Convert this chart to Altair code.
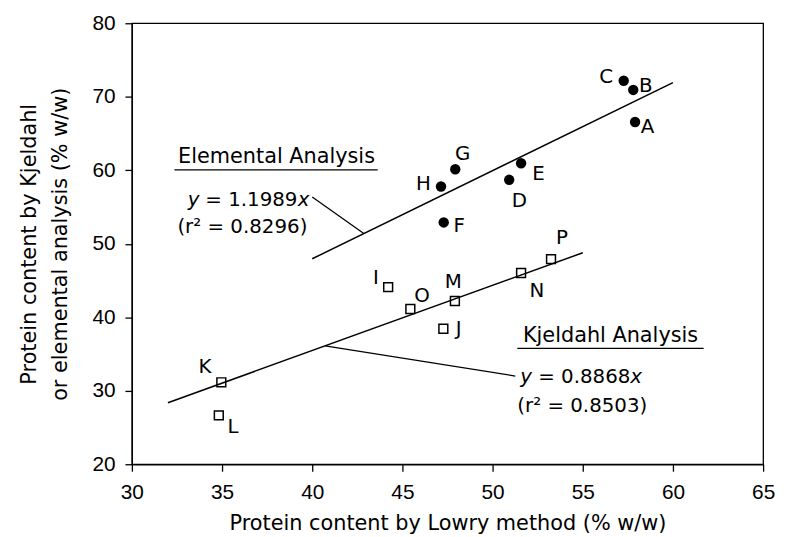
import altair as alt
import pandas as pd

FONT = "DejaVu Sans"
TICK_FONT = "Liberation Sans"
X_DOMAIN = [30, 65]
Y_DOMAIN = [20, 80]
W, H = 637, 445
PX_X = W / (X_DOMAIN[1] - X_DOMAIN[0])
PX_Y = H / (Y_DOMAIN[1] - Y_DOMAIN[0])

# Elemental analysis (filled circles)
EL_NAMES = list("ABCDEFGH")
EL_X = [57.9, 57.8, 57.27, 50.92, 51.58, 47.29, 47.93, 47.14]
EL_Y = [66.56, 70.93, 72.18, 58.70, 60.95, 52.90, 60.14, 57.79]
EL_DX = [12.6, 12.7, -17.6, 10.3, 17.6, 15.6, 7.4, -17.7]
EL_DY = [5.3, -4.3, -4, 21, 11, 4, -15, -2.4]

# Kjeldahl analysis (open squares)
KJ_NAMES = list("IJKLMNOP")
KJ_X = [44.21, 47.27, 34.96, 34.82, 47.91, 51.58, 45.44, 53.24]
KJ_Y = [44.10, 38.43, 31.15, 26.65, 42.21, 46.02, 41.13, 47.91]
KJ_DX = [-12.4, 15.4, -16.6, 14.3, -1.7, 16, 11.7, 11]
KJ_DY = [-9, 0, -15, 11.6, -19, 18.7, -13.3, -21]

# Regression lines
EL_SLOPE, EL_RANGE = 1.1989, [40, 60]
KJ_SLOPE, KJ_RANGE = 0.8868, [32, 55]

# Leader lines
EL_LEADER_X, EL_LEADER_Y = [40.0, 42.86], [56.36, 51.39]
KJ_LEADER_X, KJ_LEADER_Y = [40.71, 51.26], [36.1, 32.0]

# Headings with underline
HEAD_TEXT = ["Elemental Analysis", "Kjeldahl Analysis"]
HEAD_X = [38.02, 56.54]
HEAD_Y = [61.80, 37.40]
UL_X1 = [32.36, 51.37]
UL_X2 = [43.63, 61.70]
UL_Y = [60.05, 35.78]

# Equations
EL_EQ = ["y", "= 1.1989", "x"]
KJ_EQ = ["y", "= 0.8868", "x"]
EL_EQ_POS = (39.84, 56.0)
KJ_EQ_POS = (51.54, 31.87)
R2_TEXT = ["(r\u00b2 = 0.8296)", "(r\u00b2 = 0.8503)"]
R2_X = [39.73, 51.37]
R2_Y = [52.23, 27.96]
R2_ALIGN = ["right", "left"]

sx = alt.Scale(domain=X_DOMAIN, nice=False, zero=False)
sy = alt.Scale(domain=Y_DOMAIN, nice=False, zero=False)

xaxis = alt.Axis(
    title="Protein content by Lowry method (% w/w)",
    values=list(range(30, 66, 5)), grid=False,
)
yaxis = alt.Axis(
    title=["Protein content by Kjeldahl", "or elemental analysis (% w/w)"],
    values=list(range(20, 81, 10)), grid=False,
)


def X(field="x"):
    return alt.X(f"{field}:Q", scale=sx, axis=xaxis)


def Y(field="y"):
    return alt.Y(f"{field}:Q", scale=sy, axis=yaxis)


el = pd.DataFrame({"name": EL_NAMES, "x": EL_X, "y": EL_Y})
el["lx"] = [x + dx / PX_X for x, dx in zip(EL_X, EL_DX)]
el["ly"] = [y - dy / PX_Y for y, dy in zip(EL_Y, EL_DY)]
kj = pd.DataFrame({"name": KJ_NAMES, "x": KJ_X, "y": KJ_Y})
kj["lx"] = [x + dx / PX_X for x, dx in zip(KJ_X, KJ_DX)]
kj["ly"] = [y - dy / PX_Y for y, dy in zip(KJ_Y, KJ_DY)]

base_pts = alt.Chart(el).mark_point(
    shape="circle", filled=True, color="black", size=110, opacity=1
).encode(x=X(), y=Y())

sq_pts = alt.Chart(kj).mark_point(
    shape="square", filled=False, color="black", size=80, strokeWidth=1.5, opacity=1
).encode(x=X(), y=Y())

el_lab = alt.Chart(el).mark_text(font=FONT, fontSize=20, color="black", baseline="middle").encode(
    x=X("lx"), y=Y("ly"), text="name:N")
kj_lab = alt.Chart(kj).mark_text(font=FONT, fontSize=20, color="black", baseline="middle").encode(
    x=X("lx"), y=Y("ly"), text="name:N")

reg = pd.DataFrame({
    "x": EL_RANGE + KJ_RANGE,
    "y": [EL_SLOPE * v for v in EL_RANGE] + [KJ_SLOPE * v for v in KJ_RANGE],
    "g": ["el", "el", "kj", "kj"],
})
reg_lines = alt.Chart(reg).mark_line(color="black", strokeWidth=1.5).encode(
    x=X(), y=Y(), detail="g:N")

lead = pd.DataFrame({
    "x": EL_LEADER_X + KJ_LEADER_X,
    "y": EL_LEADER_Y + KJ_LEADER_Y,
    "g": ["el", "el", "kj", "kj"],
})
lead_lines = alt.Chart(lead).mark_line(color="black", strokeWidth=1.3).encode(
    x=X(), y=Y(), detail="g:N")

heads = pd.DataFrame({"t": HEAD_TEXT, "x": HEAD_X, "y": HEAD_Y})
head_txt = alt.Chart(heads).mark_text(
    font=FONT, fontSize=21, color="black", baseline="middle", align="center"
).encode(x=X(), y=Y(), text="t:N")

ul = pd.DataFrame({"x": UL_X1, "x2": UL_X2, "y": UL_Y})
ul_rule = alt.Chart(ul).mark_rule(color="black", strokeWidth=1.3).encode(
    x=X(), x2="x2:Q", y=Y())

eq_layers = []
ex, ey = EL_EQ_POS
edf = pd.DataFrame({"x": [ex], "y": [ey]})
for txt, style, dx in zip(EL_EQ, ["italic", "normal", "italic"], [-111, -12, 0]):
    eq_layers.append(alt.Chart(edf).mark_text(
        font=FONT, fontSize=20, color="black", baseline="middle", align="right",
        fontStyle=style, dx=dx, text=txt).encode(x=X(), y=Y()))
kx, ky = KJ_EQ_POS
kdf = pd.DataFrame({"x": [kx], "y": [ky]})
for txt, style, dx in zip(KJ_EQ, ["italic", "normal", "italic"], [0, 18, 111]):
    eq_layers.append(alt.Chart(kdf).mark_text(
        font=FONT, fontSize=20, color="black", baseline="middle", align="left",
        fontStyle=style, dx=dx, text=txt).encode(x=X(), y=Y()))

for t, x, y, a in zip(R2_TEXT, R2_X, R2_Y, R2_ALIGN):
    eq_layers.append(alt.Chart(pd.DataFrame({"x": [x], "y": [y]})).mark_text(
        font=FONT, fontSize=20, color="black", baseline="middle", align=a, text=t
    ).encode(x=X(), y=Y()))

chart = alt.layer(
    base_pts, sq_pts, reg_lines, lead_lines, el_lab, kj_lab, head_txt, ul_rule, *eq_layers
).properties(
    width=W, height=H,
    autosize="none",
    padding={"left": 125, "top": 13, "right": 14, "bottom": 71},
    background="white",
).configure_view(
    stroke="black", strokeWidth=1.3
).configure_axis(
    domainColor="black", domainWidth=1.3,
    tickColor="black", tickWidth=1.3, tickSize=7,
    labelFont=TICK_FONT, labelFontSize=21, labelColor="black",
    titleFont=FONT, titleFontSize=21, titleFontWeight="normal", titleColor="black",
    labelFlush=False, labelOverlap=False,
).configure_axisX(
    labelPadding=11, titlePadding=10,
).configure_axisY(
    labelPadding=10, titlePadding=22, titleLineHeight=31,
)

chart.save("out.html", embed_options={"renderer": "svg", "actions": False})
